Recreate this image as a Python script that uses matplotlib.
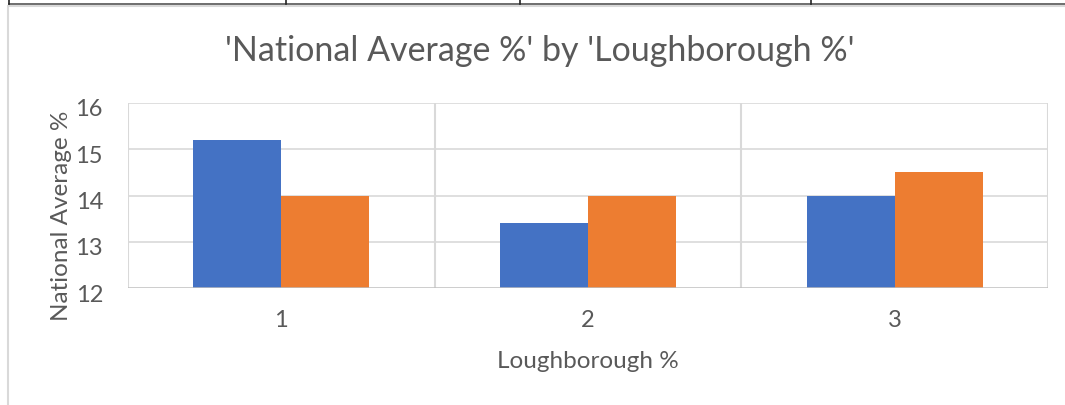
import matplotlib
matplotlib.use("Agg")
import matplotlib.pyplot as plt
from matplotlib.lines import Line2D
from matplotlib.transforms import ScaledTranslation
import numpy as np

categories = ['1', '2', '3']
series_a = [15.2, 13.4, 14.0]
series_b = [14.0, 14.0, 14.5]
y_ticks = [12, 13, 14, 15, 16]

title = "'National Average %' by 'Loughborough %'"
xlabel = "Loughborough %"
ylabel = "National Average %"

plt.rcParams['font.family'] = ['Lato', 'DejaVu Sans']
TXT = '#595959'
W, H = 1065, 405
fig = plt.figure(figsize=(W / 100, H / 100), dpi=100)

def fx(px):
    return px / W

def fy(py):
    return 1 - py / H

ax = fig.add_axes([fx(128), fy(288), (1048 - 128) / W, (288 - 103) / H])
x = np.arange(1, len(categories) + 1)
bw = 0.287
ax.bar(x - bw / 2, np.array(series_a) - 12, bw, bottom=12, color='#4472C4', zorder=3)
ax.bar(x + bw / 2, np.array(series_b) - 12, bw, bottom=12, color='#ED7D31', zorder=3)
ax.set_xlim(0.5, len(categories) + 0.5)
ax.set_ylim(12, 16)
for s in ax.spines.values():
    s.set_visible(False)
for yv in y_ticks[1:]:
    ax.axhline(yv, color='#d9d9d9', lw=1.2, zorder=1)
for xv in np.arange(0.5, len(categories) + 1, 1.0):
    ax.axvline(xv, color='#d9d9d9', lw=1.5, zorder=1)
ax.axhline(12, color='#bfbfbf', lw=1.8, zorder=4)
ax.set_yticks(y_ticks)
ax.set_yticklabels([str(v) for v in y_ticks], color=TXT, fontsize=17)
ax.set_xticks(x)
ax.set_xticklabels(categories, color=TXT, fontsize=17)
ax.tick_params(axis='both', length=0)
ax.tick_params(axis='y', pad=18)
ax.tick_params(axis='x', pad=16)
for lab in ax.get_yticklabels():
    lab.set_transform(lab.get_transform() + ScaledTranslation(0, -5 / 100, fig.dpi_scale_trans))

fig.text(fx(540), fy(51), title, ha='center', va='center', fontsize=24.5, color=TXT)
fig.text(fx(588), fy(362), xlabel, ha='center', va='center', fontsize=17.5, color=TXT)
fig.text(fx(62), fy(216), ylabel, ha='center', va='center', rotation=90, fontsize=17.5, color=TXT)

# surrounding page decorations
fig.add_artist(Line2D([fx(8), fx(8)], [fy(6), fy(405)], color='#d9d9d9', lw=1.5))
fig.add_artist(Line2D([fx(9), fx(1065)], [fy(5.5), fy(5.5)], color='#d9d9d9', lw=1.5))
fig.add_artist(Line2D([fx(9), fx(1065)], [fy(4), fy(4)], color='#555555', lw=1.2))
for vx in [9, 286, 520, 811]:
    fig.add_artist(Line2D([fx(vx), fx(vx)], [fy(0), fy(4)], color='#222222', lw=1.2))

fig.savefig('out.png', dpi=100, facecolor='white')
